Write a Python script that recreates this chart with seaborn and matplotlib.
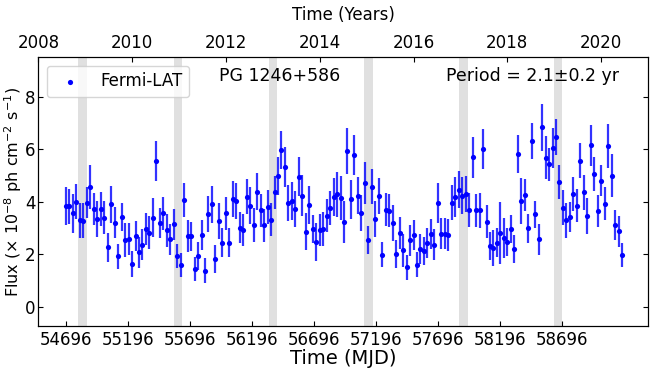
import matplotlib
matplotlib.use("Agg")
import matplotlib.pyplot as plt
import numpy as np
import pandas as pd
import seaborn as sns

# 28-day binned Fermi-LAT light curve
mjd = [
    54696, 54724, 54752, 54780, 54808, 54836, 54864, 54892, 54920, 54948,
    54976, 55004, 55032, 55060, 55088, 55116, 55144, 55172, 55200, 55228,
    55256, 55284, 55312, 55340, 55368, 55396, 55424, 55452, 55480, 55508,
    55536, 55564, 55592, 55620, 55648, 55676, 55704, 55732, 55760, 55788,
    55816, 55844, 55872, 55900, 55928, 55956, 55984, 56012, 56040, 56068,
    56096, 56124, 56152, 56180, 56208, 56236, 56264, 56292, 56320, 56348,
    56376, 56404, 56432, 56460, 56488, 56516, 56544, 56572, 56600, 56628,
    56656, 56684, 56712, 56740, 56768, 56796, 56824, 56852, 56880, 56908,
    56936, 56964, 56992, 57020, 57048, 57076, 57104, 57132, 57160, 57188,
    57216, 57244, 57272, 57300, 57328, 57356, 57384, 57412, 57440, 57468,
    57496, 57524, 57552, 57580, 57608, 57636, 57664, 57692, 57720, 57748,
    57776, 57804, 57832, 57860, 57888, 57916, 57944, 57972, 58000, 58028,
    58056, 58084, 58112, 58140, 58168, 58196, 58224, 58252, 58280, 58308,
    58336, 58364, 58392, 58420, 58448, 58476, 58504, 58532, 58560, 58588,
    58616, 58644, 58672, 58700, 58728, 58756, 58784, 58812, 58840, 58868,
    58896, 58924, 58952, 58980, 59008, 59036, 59064, 59092, 59120, 59148,
    59176,
]

flux = [
    3.85, 3.83, 3.56, 4.00, 3.30, 3.28, 3.97, 4.57, 3.73, 3.35,
    3.73, 3.39, 2.27, 3.90, 3.21, 1.93, 3.43, 2.54, 2.57, 1.63,
    2.69, 2.07, 2.37, 2.96, 2.83, 3.40, 5.56, 3.21, 3.57, 2.91,
    2.58, 3.14, 1.94, 1.59, 4.06, 2.70, 2.68, 1.45, 1.94, 2.73,
    1.38, 3.54, 3.90, 1.82, 3.28, 2.45, 3.56, 2.45, 4.11, 4.04,
    3.02, 2.93, 4.19, 3.86, 3.11, 4.39, 3.68, 3.11, 3.82, 3.31,
    4.36, 4.98, 5.98, 5.32, 3.96, 4.03, 3.73, 4.95, 4.24, 2.86,
    3.87, 2.96, 2.46, 2.92, 2.95, 3.47, 3.77, 4.19, 4.28, 4.14,
    3.23, 5.94, 4.09, 5.79, 4.24, 3.57, 4.72, 2.54, 4.57, 3.35,
    4.22, 1.99, 3.70, 3.67, 3.19, 2.01, 2.82, 2.15, 1.50, 2.53,
    2.74, 1.61, 2.22, 2.12, 2.43, 2.76, 2.37, 3.96, 2.78, 2.78,
    2.73, 3.97, 4.18, 4.47, 4.24, 4.30, 3.68, 5.69, 3.68, 3.68,
    6.03, 3.24, 2.31, 2.25, 2.45, 2.81, 2.62, 2.48, 2.96, 2.20,
    5.82, 4.04, 4.25, 3.00, 6.32, 3.53, 2.57, 6.84, 5.68, 5.43,
    6.04, 6.48, 4.77, 3.78, 3.29, 3.42, 4.29, 3.86, 5.56, 4.36,
    3.45, 6.15, 5.05, 3.66, 4.81, 3.92, 6.12, 5.00, 3.12, 2.88,
    1.98,
]

flux_err = [
    0.73, 0.67, 0.73, 0.67, 0.67, 0.67, 0.60, 0.85, 0.62, 0.69,
    0.65, 0.63, 0.55, 0.69, 0.60, 0.48, 0.54, 0.64, 0.61, 0.48,
    0.58, 0.60, 0.59, 0.62, 0.62, 0.75, 0.76, 0.57, 0.63, 0.63,
    0.59, 0.60, 0.46, 0.46, 0.65, 0.62, 0.57, 0.46, 0.54, 0.57,
    0.49, 0.68, 0.69, 0.53, 0.68, 0.55, 0.63, 0.57, 0.69, 0.69,
    0.58, 0.61, 0.67, 0.70, 0.65, 0.71, 0.63, 0.63, 0.65, 0.63,
    0.63, 0.72, 0.71, 0.77, 0.68, 0.73, 0.68, 0.74, 0.78, 0.70,
    0.72, 0.54, 0.72, 0.62, 0.65, 0.63, 0.65, 0.73, 0.84, 0.84,
    0.79, 0.89, 0.76, 0.75, 0.70, 0.70, 0.81, 0.53, 0.67, 0.70,
    0.67, 0.49, 0.62, 0.63, 0.69, 0.55, 0.62, 0.62, 0.46, 0.59,
    0.57, 0.46, 0.57, 0.54, 0.57, 0.57, 0.58, 0.77, 0.59, 0.59,
    0.60, 0.68, 0.75, 0.70, 0.70, 0.69, 0.65, 0.77, 0.63, 0.67,
    0.76, 0.63, 0.54, 0.69, 0.57, 1.17, 0.77, 0.54, 0.54, 0.54,
    0.71, 0.87, 0.61, 0.55, 0.68, 0.51, 0.58, 0.89, 0.81, 0.62,
    0.76, 0.69, 0.65, 0.68, 0.65, 0.56, 0.65, 0.63, 0.67, 0.68,
    0.69, 0.79, 0.64, 0.60, 0.59, 0.63, 0.84, 0.83, 0.56, 0.59,
    0.46,
]

# shaded intervals (MJD)
band_start = [54795, 55568, 56333, 57098, 57863, 58629]
band_end = [54863, 55633, 56398, 57166, 57931, 58696]

mjd_ticks = [54696, 55196, 55696, 56196, 56696, 57196, 57696, 58196, 58696]
year_ticks = [2008, 2010, 2012, 2014, 2016, 2018, 2020]

df = pd.DataFrame({"mjd": mjd, "flux": flux, "err": flux_err})

sns.set_style("ticks", {
    "axes.edgecolor": "black", "text.color": "black", "axes.labelcolor": "black",
    "xtick.color": "black", "ytick.color": "black",
    "xtick.direction": "in", "ytick.direction": "in",
})
plt.rcParams["font.family"] = ["DejaVu Sans"]

fig = plt.figure(figsize=(6.55, 3.7), dpi=100)
ax = fig.add_axes([0.0585, 0.1197, 0.9308, 0.7249])

for s, e in zip(band_start, band_end):
    ax.axvspan(s, e, color="lightgray", alpha=0.7, lw=0, zorder=0)

ax.errorbar(df["mjd"], df["flux"], yerr=df["err"], fmt="none",
            ecolor="blue", elinewidth=1.6, alpha=0.8, zorder=2)
sns.scatterplot(data=df, x="mjd", y="flux", color="blue", s=14, linewidth=0,
                label="Fermi-LAT", ax=ax, zorder=3)

ax.set_xlim(54473, 59385)
ax.set_ylim(-0.72, 9.5)
ax.set_xticks(mjd_ticks)
ax.set_yticks([0, 2, 4, 6, 8])
ax.tick_params(axis="both", direction="in", labelsize=12, right=True, top=False)
ax.tick_params(axis="y", pad=2)
ax.set_xlabel("Time (MJD)", fontsize=14, labelpad=0)
ax.set_ylabel("Flux (× 10$^{-8}$ ph cm$^{-2}$ s$^{-1}$)", fontsize=11.5, labelpad=1)

ax.legend(loc="upper left", fontsize=12, frameon=True, handletextpad=0.8)

ax.text(0.396, 0.913, "PG 1246+586", transform=ax.transAxes,
        ha="center", va="baseline", fontsize=12.5)
ax.text(0.953, 0.913, "Period = 2.1±0.2 yr", transform=ax.transAxes,
        ha="right", va="baseline", fontsize=12.5)

ax2 = ax.twiny()
ax2.set_xlim(2008, 2021)
ax2.set_xticks(year_ticks)
ax2.tick_params(axis="x", direction="in", labelsize=12, pad=4)
ax2.set_xlabel("Time (Years)", fontsize=12, labelpad=10)

fig.savefig("out.png", dpi=100)
